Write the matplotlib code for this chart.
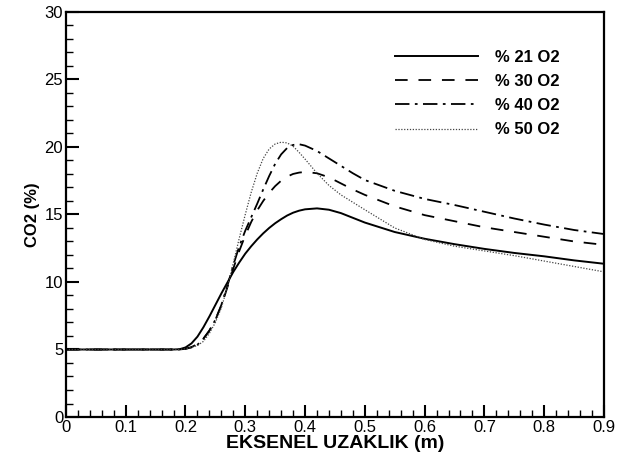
import numpy as np
import matplotlib
matplotlib.use("Agg")
import matplotlib.pyplot as plt
from matplotlib.ticker import MultipleLocator

# ---------- data ----------
x = [0.00, 0.18, 0.19, 0.20, 0.21, 0.22, 0.23, 0.24, 0.25, 0.26, 0.27, 0.28,
     0.29, 0.30, 0.31, 0.32, 0.33, 0.34, 0.35, 0.36, 0.37, 0.38, 0.39, 0.40,
     0.42, 0.44, 0.46, 0.48, 0.50, 0.55, 0.60, 0.65, 0.70, 0.75, 0.80, 0.85, 0.90]

co2_21 = [5.0, 5.0, 5.02, 5.15, 5.45, 5.95, 6.65, 7.45, 8.3, 9.15, 9.95, 10.75,
          11.45, 12.1, 12.65, 13.15, 13.6, 14.0, 14.35, 14.65, 14.92, 15.13, 15.28, 15.38,
          15.45, 15.35, 15.1, 14.75, 14.4, 13.7, 13.2, 12.8, 12.45, 12.15, 11.9, 11.6, 11.35]

co2_30 = [5.0, 5.0, 5.0, 5.05, 5.18, 5.4, 5.8, 6.4, 7.2, 8.25, 9.6, 11.0,
          12.3, 13.45, 14.45, 15.3, 16.0, 16.6, 17.1, 17.5, 17.8, 18.0, 18.1, 18.15,
          18.05, 17.75, 17.3, 16.85, 16.45, 15.6, 14.95, 14.5, 14.05, 13.7, 13.35, 13.0, 12.75]

co2_40 = [5.0, 5.0, 5.0, 5.05, 5.15, 5.35, 5.8, 6.4, 7.2, 8.3, 9.7, 11.25,
          12.65, 13.8, 14.8, 15.8, 16.85, 17.85, 18.75, 19.45, 19.92, 20.15, 20.2, 20.1,
          19.7, 19.15, 18.6, 18.05, 17.55, 16.75, 16.15, 15.7, 15.2, 14.7, 14.25, 13.85, 13.55]

co2_50 = [5.0, 5.0, 5.0, 5.05, 5.15, 5.3, 5.6, 6.2, 7.0, 8.1, 9.6, 11.4,
          13.25, 15.0, 16.65, 18.05, 19.15, 19.85, 20.22, 20.35, 20.3, 20.05, 19.6, 19.1,
          18.05, 17.15, 16.45, 15.9, 15.35, 14.0, 13.15, 12.65, 12.3, 11.95, 11.55, 11.15, 10.75]

labels = ["% 21 O2", "% 30 O2", "% 40 O2", "% 50 O2"]

plt.rcParams["font.family"] = ["Liberation Sans", "DejaVu Sans"]

fig = plt.figure(figsize=(6.22, 4.58), dpi=100)
ax = fig.add_axes([0.106, 0.0895, 0.865, 0.8845])

ax.plot(x, co2_21, color="black", lw=1.4, ls="-", label=labels[0])
ax.plot(x, co2_30, color="black", lw=1.3, dashes=(7, 6), label=labels[1])
ax.plot(x, co2_40, color="black", lw=1.3, dashes=(8, 3, 1.5, 3), label=labels[2])
ax.plot(x, co2_50, color="#444444", lw=0.9, dashes=(1, 1.3), label=labels[3])

ax.set_xlim(0, 0.9)
ax.set_ylim(0, 30)
ax.xaxis.set_major_locator(MultipleLocator(0.1))
ax.xaxis.set_minor_locator(MultipleLocator(0.02))
ax.yaxis.set_major_locator(MultipleLocator(5))
ax.yaxis.set_minor_locator(MultipleLocator(1))
ax.xaxis.set_major_formatter(plt.FuncFormatter(lambda v, p: "0" if abs(v) < 1e-9 else f"{v:.1f}"))

ax.tick_params(which="both", direction="in", top=False, right=False, labelsize=12, pad=2)
ax.tick_params(which="major", length=9, width=1.5)
ax.tick_params(which="minor", length=5, width=1.0)
for s in ax.spines.values():
    s.set_linewidth(1.6)

ax.set_xlabel("EKSENEL UZAKLIK (m)", fontsize=14, fontweight="bold", labelpad=0)
ax.set_ylabel("CO2 (%)", fontsize=12, fontweight="bold", labelpad=3)

ax.legend(loc="upper right", bbox_to_anchor=(0.945, 0.943), frameon=False,
          prop={"size": 12, "weight": "bold"}, handlelength=5.0,
          handletextpad=1.0, labelspacing=0.55)

fig.savefig("out.png", dpi=100)
